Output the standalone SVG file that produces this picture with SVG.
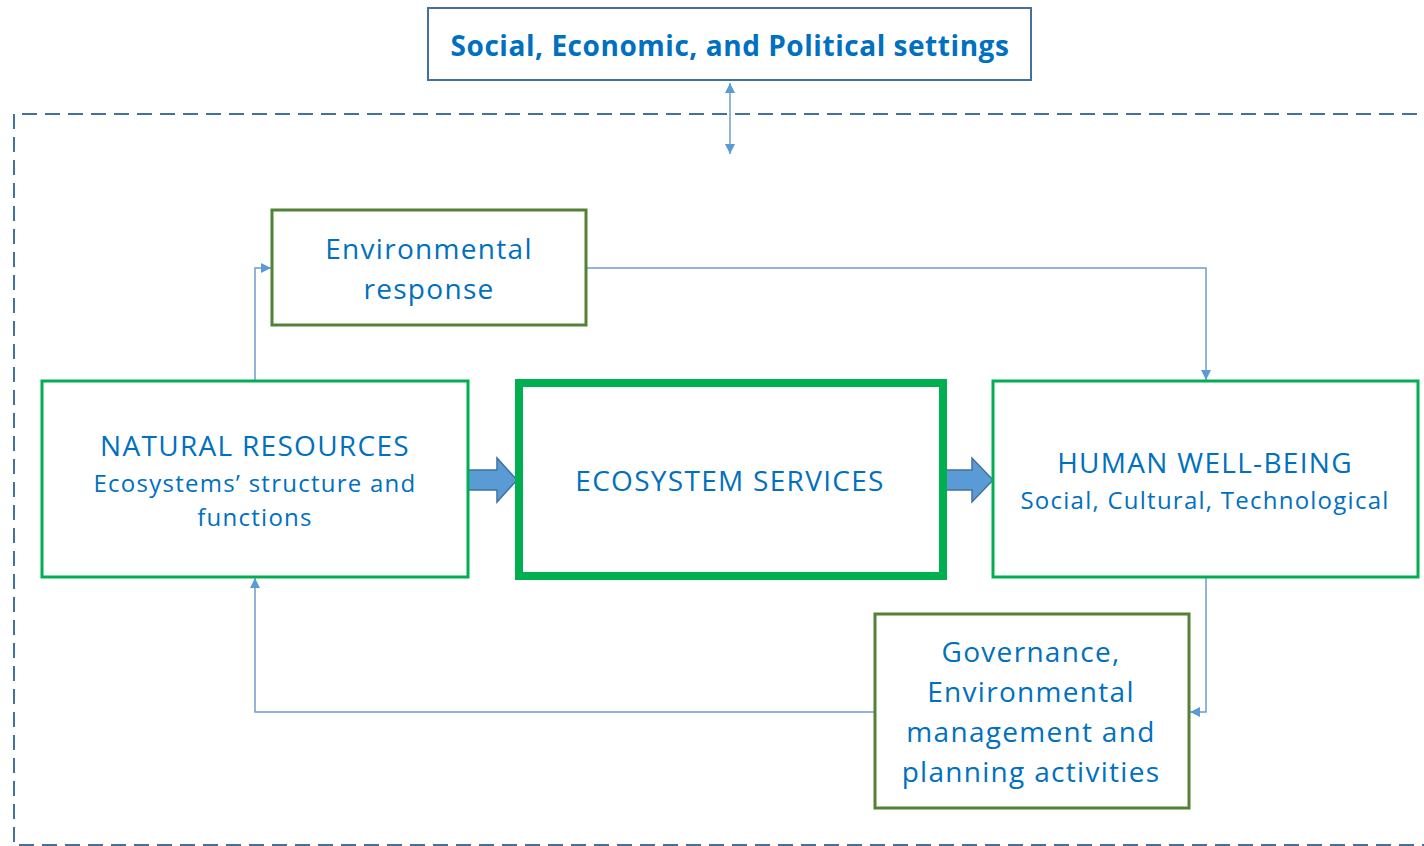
<svg xmlns="http://www.w3.org/2000/svg" width="1424" height="846" viewBox="0 0 1424 846">
  <style>
    .t { font-family: "Open Sans", "Noto Sans", sans-serif; fill: #0070C0; text-anchor: middle; }
    .big { font-size: 28px; letter-spacing: 1.3px; }
    .sub { font-size: 24px; letter-spacing: 1.25px; }
    .olive { fill: #ffffff; stroke: #538135; stroke-width: 3; }
    .green { fill: #ffffff; stroke: #00B050; stroke-width: 3; }
    .conn { fill: none; stroke: #6F9CCB; stroke-width: 1.5; }
    .block { fill: #5B9BD5; stroke: #41719C; stroke-width: 1.5; }
  </style>
  <defs>
    <marker id="ah" viewBox="0 0 10 10" refX="10" refY="5" markerWidth="10" markerHeight="10" markerUnits="userSpaceOnUse" orient="auto-start-reverse">
      <path d="M0,0 L10,5 L0,10 Z" fill="#5B9BD5"/>
    </marker>
  </defs>
  <rect width="1424" height="846" fill="#ffffff"/>

  <!-- outer dashed boundary (runs off the right edge) -->
  <path d="M1440,114 H14 V845 H1440" fill="none" stroke="#41719C" stroke-width="2" stroke-dasharray="15 8"/>

  <g id="connectors">
    <line x1="730" y1="83" x2="730" y2="154" class="conn" marker-start="url(#ah)" marker-end="url(#ah)"/>
    <polyline points="255,381 255,268 271,268" class="conn" marker-end="url(#ah)"/>
    <polyline points="587,268 1206,268 1206,380" class="conn" marker-end="url(#ah)"/>
    <polyline points="1206,578 1206,712 1190,712" class="conn" marker-end="url(#ah)"/>
    <polyline points="874,712 255,712 255,578" class="conn" marker-end="url(#ah)"/>
    <path class="block" d="M468,470 H497 V458 L517,480 L497,502 V490 H468 Z"/>
    <path class="block" d="M943,470 H972 V458 L993,480 L972,502 V490 H943 Z"/>
  </g>

  <g id="settings">
    <rect x="428" y="8" width="603" height="72" fill="#ffffff" stroke="#41719C" stroke-width="2"/>
    <text x="730" y="56" class="t" style="font-weight:bold;font-size:28px;letter-spacing:0.55px">Social, Economic, and Political settings</text>
  </g>

  <g id="environmental-response">
    <rect x="272" y="210" width="314" height="115" class="olive"/>
    <text x="429" y="259" class="t big">Environmental</text>
    <text x="429" y="299" class="t big">response</text>
  </g>

  <g id="natural-resources">
    <rect x="42" y="381" width="426" height="196" class="green"/>
    <text x="255" y="456" class="t big">NATURAL RESOURCES</text>
    <text x="255" y="492" class="t sub">Ecosystems’ structure and</text>
    <text x="255" y="526" class="t sub">functions</text>
  </g>

  <g id="ecosystem-services">
    <rect x="519" y="383" width="424" height="193" fill="#ffffff" stroke="#00B050" stroke-width="8"/>
    <text x="730" y="491" class="t big">ECOSYSTEM SERVICES</text>
  </g>

  <g id="human-well-being">
    <rect x="993" y="381" width="425" height="196" class="green"/>
    <text x="1205" y="473" class="t big">HUMAN WELL-BEING</text>
    <text x="1205" y="509" class="t sub">Social, Cultural, Technological</text>
  </g>

  <g id="governance">
    <rect x="875" y="614" width="314" height="194" class="olive"/>
    <text x="1031" y="662" class="t big">Governance,</text>
    <text x="1031" y="702" class="t big">Environmental</text>
    <text x="1031" y="742" class="t big">management and</text>
    <text x="1031" y="782" class="t big">planning activities</text>
  </g>
</svg>
